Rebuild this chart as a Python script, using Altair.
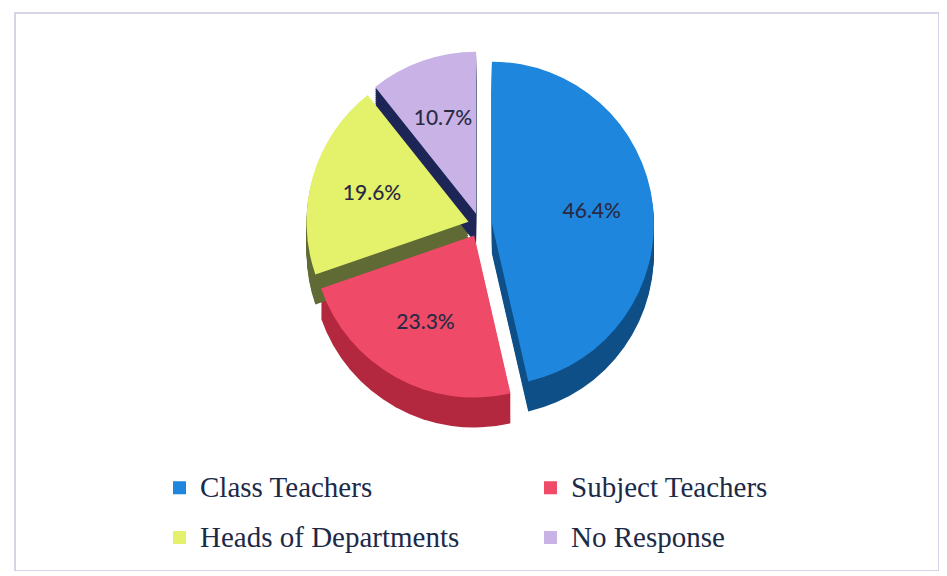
import math
import altair as alt
import pandas as pd

# ---- data ----
categories = ["Class Teachers", "Subject Teachers", "Heads of Departments", "No Response"]
shares = [46.4, 23.3, 19.6, 10.7]
top_colors = ["#1f86de", "#ef4a68", "#e3f26a", "#c9b3e6"]
side_colors = ["#0e4f88", "#b3283f", "#5f6a34", "#1d2557"]

df = pd.DataFrame({
    "category": categories,
    "share": shares,
    "idx": list(range(len(categories))),
    "side": side_colors,
})

# ---- layout / style ----
W, H = 924, 558
CX, CY = 465, 212
R = 162
EXPLODE = 12
DEPTH = 30
LABEL_R = 0.62 * R

base = (
    alt.Chart(df)
    .transform_window(cum="sum(share)", sort=[alt.SortField("idx")], frame=[None, 0])
    .transform_calculate(start="datum.cum - datum.share")
    .transform_calculate(mid="(datum.cum - datum.share / 2) / 100 * 2 * PI")
    .transform_calculate(cx=f"{CX} + {EXPLODE} * sin(datum.mid)")
    .transform_calculate(cy=f"{CY} - {EXPLODE} * cos(datum.mid)")
    .transform_calculate(lx=f"datum.cx + {LABEL_R} * sin(datum.mid)")
    .transform_calculate(ly=f"datum.cy - {LABEL_R} * cos(datum.mid)")
    .transform_calculate(label="format(datum.share, '.1f') + '%'")
)

theta = alt.Theta("start:Q", scale=alt.Scale(domain=[0, 100], range=[0, 2 * math.pi]))
theta2 = alt.Theta2("cum:Q")
xc = alt.X("cx:Q", scale=None, axis=None)
yc = alt.Y("cy:Q", scale=None, axis=None)

layers = []
for d in range(2, DEPTH + 1, 2):
    layers.append(
        base.mark_arc(outerRadius=R, yOffset=d).encode(
            x=xc, y=yc, theta=theta, theta2=theta2,
            color=alt.Color("side:N", scale=None),
        )
    )

top = base.mark_arc(outerRadius=R).encode(
    x=xc, y=yc, theta=theta, theta2=theta2,
    color=alt.Color(
        "category:N",
        scale=alt.Scale(domain=categories, range=top_colors),
        legend=alt.Legend(
            title=None,
            orient="none",
            direction="horizontal",
            legendX=150,
            legendY=460,
            columns=2,
            columnPadding=76,
            rowPadding=20,
            symbolType="square",
            symbolSize=170,
            symbolStrokeWidth=0,
            labelFont="Liberation Serif",
            labelFontSize=29,
            labelColor="#1c2a48",
            labelOffset=6,
            labelLimit=400,
        ),
    ),
)
layers.append(top)

labels = base.mark_text(
    font="Lato", fontSize=21, color="#2a2a44", fontWeight=500
).encode(
    x=alt.X("lx:Q", scale=None, axis=None),
    y=alt.Y("ly:Q", scale=None, axis=None),
    text="label:N",
)
layers.append(labels)

chart = (
    alt.layer(*layers)
    .properties(
        width=W,
        height=H,
        padding={"left": 7, "top": 5, "right": 0, "bottom": 0},
        autosize=alt.AutoSizeParams(type="none"),
        background="white",
    )
    .configure_view(stroke="#cbc5e0", strokeWidth=1.5)
)

chart.save("out.html", embed_options={"renderer": "svg", "actions": False})
